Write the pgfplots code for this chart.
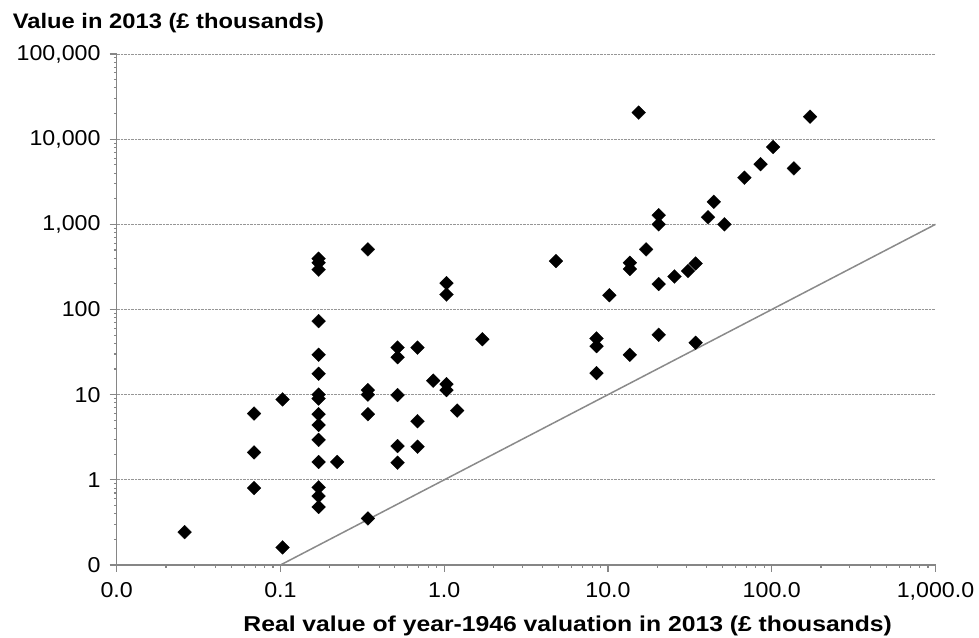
\documentclass[border=0pt]{standalone}
\usepackage{fontspec}
\setmainfont{Liberation Sans}[FakeStretch=1.08]
\newfontfamily\ytitlefont{Liberation Sans}[FakeStretch=1.13]
\newfontfamily\xtitlefont{Liberation Sans}[FakeStretch=1.15]
\usepackage{pgfplots}
\pgfplotsset{compat=1.18}
\definecolor{axgray}{RGB}{134,134,134}
\definecolor{gridgray}{RGB}{150,150,150}
\definecolor{diaggray}{RGB}{138,138,138}
\begin{document}
\fontsize{21}{25}\selectfont
\begin{tikzpicture}
\useasboundingbox (-116.7pt,-72pt) rectangle (862.3pt,565pt);
\begin{axis}[
  at={(0pt,0pt)}, anchor=south west,
  scale only axis,
  width=818.8pt, height=511pt,
  xmode=log, ymode=log,
  xmin=0.01, xmax=1000, ymin=0.1, ymax=100000,
  axis x line*=bottom, axis y line*=left,
  axis line style={axgray, line width=1.1pt},
  every tick/.style={axgray, line width=1.1pt},
  tick align=outside, major tick length=7pt,
  minor tick num=0,
  xtick={0.01,0.1,1,10,100,1000},
  xticklabels={0.0,0.1,1.0,10.0,100.0,{1,000.0}},
  ytick={0.1,1,10,100,1000,10000,100000},
  yticklabels={0,1,10,100,{1,000},{10,000},{100,000}},
  ymajorgrids,
  major grid style={gridgray, densely dotted, line width=0.7pt},
  /pgf/number format/assume math mode=true,
  tick label style={font=\fontsize{21.5}{25}\selectfont},
  yticklabel style={xshift=-2pt},
  xticklabel style={yshift=-3pt},
  clip=false,
]
\addplot[diaggray, line width=1.5pt] coordinates {(0.1,0.1) (1000,1000)};
\addplot[only marks, mark=square*, mark size=4.9pt,
  mark options={fill=black, draw=black, line width=0.2pt, rotate=45}] coordinates {
(0.026,0.243)
(0.069,6.0) (0.069,2.1) (0.069,0.8)
(0.103,8.8) (0.103,0.161)
(0.171,395) (0.171,354) (0.171,294) (0.171,73) (0.171,29.4) (0.171,17.6)
(0.171,10) (0.171,9.0) (0.171,5.9) (0.171,4.4) (0.171,2.95) (0.171,1.62)
(0.171,0.815) (0.171,0.645) (0.171,0.48)
(0.222,1.62)
(0.342,508) (0.342,11.3) (0.342,10) (0.342,5.9) (0.342,0.352)
(0.519,35.7) (0.519,27.5) (0.519,9.9) (0.519,2.49) (0.519,1.59)
(0.687,35.7) (0.687,4.87) (0.687,2.45)
(0.857,14.6)
(1.033,204) (1.033,150) (1.033,13.3) (1.033,11.3)
(1.2,6.5)
(1.71,44.7)
(4.81,371)
(8.51,45.6) (8.51,37.1) (8.51,17.9)
(10.2,147)
(13.6,354) (13.6,299) (13.6,29.4)
(15.4,20500)
(17.1,508)
(20.4,1279) (20.4,1000) (20.4,199) (20.4,50.5)
(25.5,244)
(30.8,283)
(34.3,347) (34.3,40.7)
(40.8,1210)
(44.3,1840)
(51.4,1000)
(68.1,3530)
(85.5,5080)
(102,8090)
(136.5,4540)
(171.4,18360)
};
\end{axis}
\node[anchor=base west, inner sep=0pt, font=\ytitlefont\bfseries\fontsize{21}{25}\selectfont] at (-104pt,536.3pt) {Value in 2013 (£ thousands)};
\node[anchor=base, inner sep=0pt, font=\xtitlefont\bfseries\fontsize{21.5}{25}\selectfont] at (451pt,-66pt) {Real value of year-1946 valuation in 2013 (£ thousands)};
\end{tikzpicture}
\end{document}
